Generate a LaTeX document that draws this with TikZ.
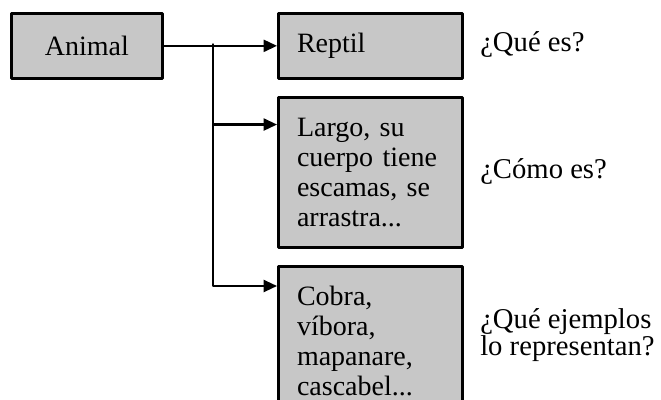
\documentclass[tikz,border=0pt]{standalone}
\usepackage{fontspec}
\setmainfont{Liberation Serif}
\usetikzlibrary{arrows.meta}

\begin{document}
\begin{tikzpicture}[line cap=round,line join=round,>={Triangle[length=10pt,width=9pt]},x=0.75pt,y=-0.75pt,
        caja/.style={draw=black, fill=black!22, line width=2pt, inner xsep=14pt, inner ysep=0pt,
          text width=110pt, align=left, minimum height=48.75pt, anchor=north west,
          font=\fontsize{21}{22.5}\selectfont},
        pregunta/.style={anchor=west, align=left, inner sep=0pt, font=\fontsize{21.5}{17}\selectfont},
        flecha/.style={->, line width=1.6pt}]
        \useasboundingbox (0,0) rectangle (661,400);

        \node[caja, text width=85.25pt, align=center] (animal) at (10,12) {Animal};
        \node[caja] (reptil) at (277,12) {Reptil};
        \node[caja, minimum height=112.5pt] (rasgos) at (277,96) {Largo, su\\cuerpo tiene\\escamas, se\\arrastra...};
        \node[caja, minimum height=112.5pt] (ejemplos) at (277,265) {Cobra,\\víbora,\\mapanare,\\cascabel...};

        \node[pregunta] (quees) at (480,44.5) {¿Qué es?};
        \node[pregunta] (comoes) at (480,171) {¿Cómo es?};
        \node[pregunta] (cuales) at (480,335) {¿Qué ejemplos\\lo representan?};

        \coordinate (rama) at (213,44.5);
        \draw[flecha] (animal) -- (reptil);
        \draw[flecha] (rama) |- ([yshift=-21.4pt]rasgos.north west);
        \draw[flecha] (rama) |- ([yshift=-15.75pt]ejemplos.north west);
        \end{tikzpicture}
\end{document}
